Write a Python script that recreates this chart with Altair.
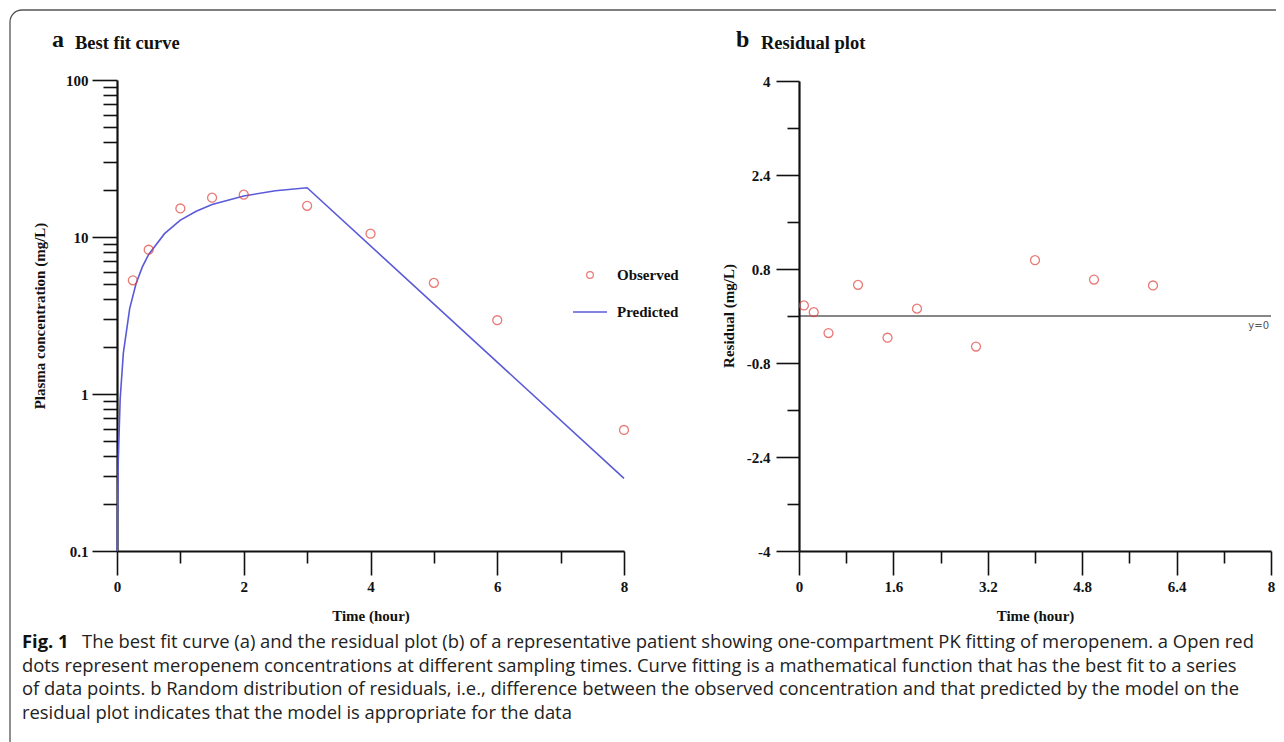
import altair as alt
import pandas as pd

# ---------------- data ----------------
obs_time = [0.25, 0.5, 1, 1.5, 2, 3, 4, 5, 6, 8]
obs_conc = [5.3, 8.3, 15.2, 17.8, 18.6, 15.8, 10.5, 5.1, 2.95, 0.59]

pred_time = [0.005, 0.01, 0.02, 0.05, 0.1, 0.2, 0.3, 0.4, 0.5, 0.75, 1, 1.25, 1.5, 2, 2.5, 3, 8]
pred_conc = [0.1, 0.19, 0.38, 0.93, 1.82, 3.5, 5.04, 6.45, 7.74, 10.5, 12.8, 14.6, 16.1, 18.25, 19.7, 20.6, 0.29]

res_time = [0.083, 0.25, 0.5, 1, 1.5, 2, 3, 4, 5, 6]
res_value = [0.18, 0.065, -0.29, 0.53, -0.37, 0.125, -0.52, 0.95, 0.62, 0.52]
zero_level = [0]

# tick positions
left_x_major = [0, 2, 4, 6, 8]
left_x_minor = [1, 3, 5, 7]
left_y_major = [0.1, 1, 10, 100]
left_y_minor = [0.2, 0.3, 0.4, 0.5, 0.6, 0.7, 0.8, 0.9,
                2, 3, 4, 5, 6, 7, 8, 9,
                20, 30, 40, 50, 60, 70, 80, 90]
right_x_major = [0, 1.6, 3.2, 4.8, 6.4, 8]
right_x_minor = [0.8, 2.4, 4.0, 5.6, 7.2]
right_y_major = [-4, -2.4, -0.8, 0.8, 2.4, 4]
right_y_minor = [-3.2, -1.6, 0, 1.6, 3.2]

# texts
panel_letters = ["a", "b"]
panel_titles = ["Best fit curve", "Residual plot"]
legend_labels = ["Observed", "Predicted"]
x_title = "Time (hour)"
y_titles = ["Plasma concentration (mg/L)", "Residual (mg/L)"]
zero_label = "y=0"
caption_head = "Fig. 1"
caption_first = ("The best fit curve (a) and the residual plot (b) of a representative patient "
                 "showing one-compartment PK fitting of meropenem. a Open red")
caption_rest = [
    "dots represent meropenem concentrations at different sampling times. Curve fitting is a "
    "mathematical function that has the best fit to a series",
    "of data points. b Random distribution of residuals, i.e., difference between the observed "
    "concentration and that predicted by the model on the",
    "residual plot indicates that the model is appropriate for the data",
]

# ---------------- styling ----------------
SERIF = "Liberation Serif"
CAPFONT = "Open Sans"
CAPSIZE = 18.4
INK = "#111111"
RED = "#e0413c"
BLUE = "#5a5ad8"
FRAME = "#555555"
LABEL_EXPR = "replace(format(datum.value, '~g'), '\u2212', '-')"

LW = 507          # left plot width
RX0, RX1 = 682, 1154   # right plot x-range inside the shared canvas
H = 471

sx_left = alt.Scale(domain=[0, 8], range=[0, LW], nice=False)
sy_left = alt.Scale(type="log", domain=[0.1, 100], range=[H, 0], nice=False)
sx_right = alt.Scale(domain=[0, 8], range=[RX0, RX1], nice=False)
sy_right = alt.Scale(domain=[-4, 4], range=[H, 1], nice=False)


def major_axis(orient, values, tick, title, pad, **kw):
    return alt.Axis(orient=orient, values=values, labelExpr=LABEL_EXPR, tickSize=tick,
                    tickWidth=1.6, tickColor=INK, domain=True, domainColor=INK, domainWidth=2.2,
                    labelFont=SERIF, labelFontSize=15, labelFontWeight="bold", labelColor=INK,
                    labelPadding=pad, labelFlush=False, labelOverlap=False, grid=False,
                    title=title, titleFont=SERIF, titleFontSize=15, titleFontWeight="bold",
                    titleColor=INK, titleAlign="center", titleBaseline="middle", **kw)


def minor_axis(orient, values, tick, **kw):
    return alt.Axis(orient=orient, values=values, tickSize=tick, tickWidth=1.6, tickColor=INK,
                    domain=False, labels=False, grid=False, title="", **kw)


obs_df = pd.DataFrame({"time": obs_time, "conc": obs_conc})
pred_df = pd.DataFrame({"time": pred_time, "conc": pred_conc})
res_df = pd.DataFrame({"time": res_time, "residual": res_value})
zero_df = pd.DataFrame({"residual": zero_level})

left_line = alt.Chart(pred_df).mark_line(color=BLUE, strokeWidth=1.6).encode(
    x=alt.X("time:Q", scale=sx_left, axis=minor_axis("bottom", left_x_minor, 12)),
    y=alt.Y("conc:Q", scale=sy_left, axis=minor_axis("left", left_y_minor, 14)),
)
left_points = alt.Chart(obs_df).mark_point(shape="circle", filled=False, size=80,
                                           strokeWidth=1.3, color=RED).encode(
    x=alt.X("time:Q", scale=sx_left,
            axis=major_axis("bottom", left_x_major, 24, x_title, 4, titleY=64)),
    y=alt.Y("conc:Q", scale=sy_left,
            axis=major_axis("left", left_y_major, 25, y_titles[0], 4, titleX=-78, titleY=H / 2)),
)
zero_rule = alt.Chart(zero_df).mark_rule(color=INK, strokeWidth=1.1).encode(
    x=alt.X(datum=0, scale=sx_right, axis=minor_axis("bottom", right_x_minor, 12)),
    x2=alt.X2(datum=8),
    y=alt.Y("residual:Q", scale=sy_right,
            axis=minor_axis("left", right_y_minor, 12, offset=-RX0)),
)
right_points = alt.Chart(res_df).mark_point(shape="circle", filled=False, size=80,
                                            strokeWidth=1.3, color=RED).encode(
    x=alt.X("time:Q", scale=sx_right,
            axis=major_axis("bottom", right_x_major, 24, x_title, 4, titleY=64)),
    y=alt.Y("residual:Q", scale=sy_right,
            axis=major_axis("left", right_y_major, 23, y_titles[1], 6, offset=-RX0,
                            titleX=-71, titleY=H / 2)),
)


def text_layer(text, x, y, size, weight="bold", font=SERIF, color=INK, align="left", **kw):
    return alt.Chart(pd.DataFrame({"label": [text]})).mark_text(
        align=align, baseline="alphabetic", font=font, fontSize=size, fontWeight=weight,
        color=color, **kw).encode(x=alt.value(x), y=alt.value(y), text="label:N")


frame = alt.Chart(pd.DataFrame({"k": [0]})).mark_rect(
    fill="white", fillOpacity=0, stroke=FRAME, strokeWidth=1.3, cornerRadiusTopLeft=12
).encode(x=alt.value(-107), x2=alt.value(1200), y=alt.value(-70), y2=alt.value(720))

legend_point = alt.Chart(pd.DataFrame({"label": [legend_labels[0]]})).mark_point(
    shape="circle", filled=False, size=45, strokeWidth=1.2, color=RED
).encode(x=alt.value(473), y=alt.value(195))
legend_line = alt.Chart(pd.DataFrame({"label": [legend_labels[1]]})).mark_rule(
    color=BLUE, strokeWidth=1.6
).encode(x=alt.value(456), x2=alt.value(490), y=alt.value(232))

texts = [
    text_layer(panel_letters[0], -65, -33, 24),
    text_layer(panel_titles[0], -42, -31, 18.5),
    text_layer(panel_letters[1], 619, -33, 24),
    text_layer(panel_titles[1], 644, -31, 18.5),
    text_layer(legend_labels[0], 500, 200, 15),
    text_layer(legend_labels[1], 500, 237, 15),
    text_layer(zero_label, RX1 - 2, 249, 10, weight="normal", font="DejaVu Sans", color="#555555",
               align="right"),
    text_layer(caption_head, -95, 568, CAPSIZE, font=CAPFONT),
    text_layer(caption_first, -35, 568, CAPSIZE, weight="normal", font=CAPFONT, color="#222222"),
    text_layer("\n".join(caption_rest), -95, 591.5, CAPSIZE, weight="normal", font=CAPFONT,
               color="#222222", lineBreak="\n", lineHeight=23.5),
]

chart = alt.layer(
    frame, left_line, left_points, zero_rule, right_points, legend_point, legend_line, *texts
).resolve_scale(
    x="independent", y="independent"
).properties(
    width=RX1, height=H,
    padding={"left": 109, "top": 72, "right": 5, "bottom": 191},
    autosize=alt.AutoSizeParams(type="none"),
).configure_view(stroke="transparent")

chart.save("out.html", embed_options={"renderer": "svg", "actions": False})
